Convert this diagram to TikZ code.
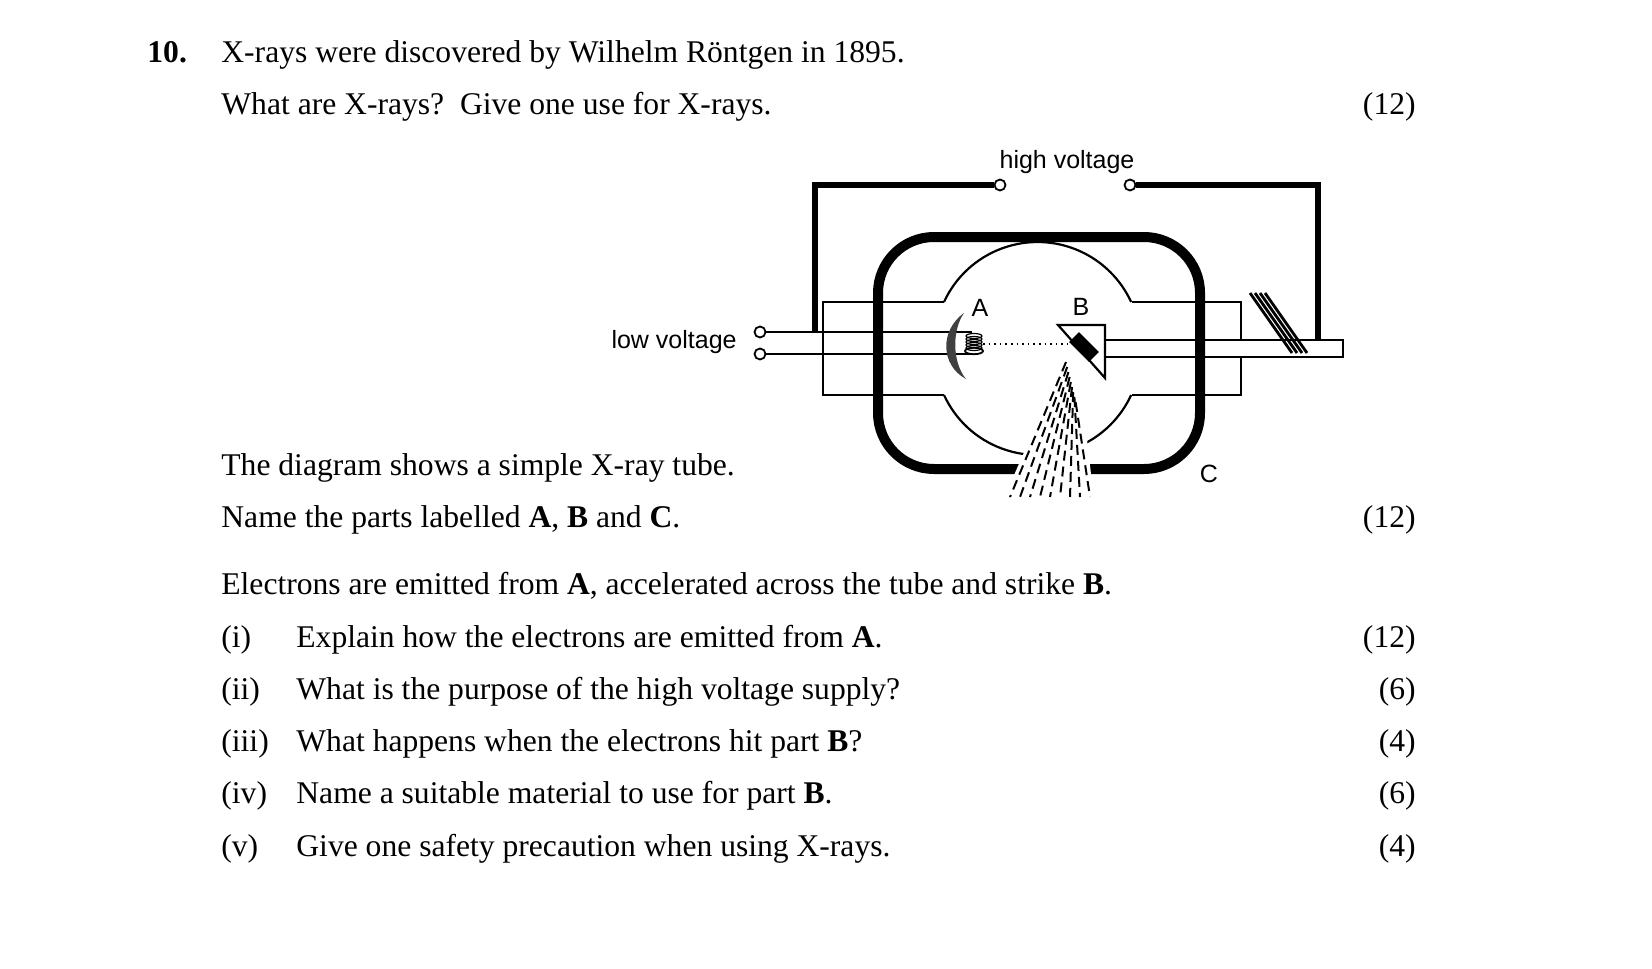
\documentclass[tikz,border=0pt]{standalone}
\usepackage{fontspec}
\setmainfont{Liberation Serif}
\newfontfamily\lsans{Liberation Sans}
\begin{document}
\begin{tikzpicture}[x=0.5pt,y=-0.5pt,
  txt/.style={anchor=base west,inner sep=0,font=\fontsize{15.8}{19}\selectfont},
  mk/.style={anchor=base east,inner sep=0,font=\fontsize{15.8}{19}\selectfont},
  lab/.style={inner sep=0,font=\lsans\fontsize{12.5}{15}\selectfont},
  thin/.style={line width=1.1pt},
  wire/.style={line width=2.6pt},
  term/.style={circle,draw,line width=0.9pt,fill=white,minimum size=5.5pt,inner sep=0}]
\useasboundingbox (0,0) rectangle (1652,968);
% text
\node[txt,font=\bfseries\fontsize{15.8}{19}\selectfont] (q) at (147,63) {10.};
\node[txt] (t1) at (221,63) {X-rays were discovered by Wilhelm Röntgen in 1895.};
\node[txt] (t2) at (221,115) {What are X-rays?\ \ Give one use for X-rays.};
\node[mk] (m1) at (1416,115) {(12)};
\node[txt] (t3) at (221,475) {The diagram shows a simple X-ray tube.};
\node[txt] (t4) at (221,527) {Name the parts labelled \textbf{A}, \textbf{B} and \textbf{C}.};
\node[mk] (m2) at (1416,527) {(12)};
\node[txt] (t5) at (221,594) {Electrons are emitted from \textbf{A}, accelerated across the tube and strike \textbf{B}.};
\foreach \r/\s/\m/\y [count=\k] in {(i)/Explain how the electrons are emitted from \textbf{A}./(12)/647,
 (ii)/What is the purpose of the high voltage supply?/(6)/699,
 (iii)/What happens when the electrons hit part \textbf{B}?/(4)/751,
 (iv)/Name a suitable material to use for part \textbf{B}./(6)/803,
 (v)/Give one safety precaution when using X-rays./(4)/856}{
  \node[txt] (r\k) at (221,\y) {\r};
  \node[txt] (s\k) at (296,\y) {\s};
  \node[mk] (mm\k) at (1416,\y) {\m};
}
% necks
\draw[thin] (944,302) -- (823,302) -- (823,395) -- (944,395);
\draw[thin] (1132,302) -- (1241,302) -- (1241,395) -- (1132,395);
% bulb arcs
\draw[thin] (944,302) arc[start angle=204.7,end angle=335.3,radius=103];
\draw[thin] (944,395) arc[start angle=155.3,end angle=24.7,radius=103];
% anode rod
\draw[thin,fill=white] (1105,340) rectangle (1343,357);
% cathode wires
\node[term] (lv1) at (760,332) {};
\node[term] (lv2) at (760,354) {};
\draw[thin] (lv1) -- (972,332);
\draw[thin] (lv2) -- (972,354);
% high voltage circuit
\node[term] (hv1) at (1000,185) {};
\node[term] (hv2) at (1130,185) {};
\draw[wire] (hv1) -- (815,185) -- (815,331);
\draw[wire] (hv2) -- (1318,185) -- (1318,340);
% glass envelope
\draw[line width=5pt,rounded corners=28pt] (878,237) rectangle (1200,469);
% hatching
\foreach \d in {0,5,10,15} \draw[line width=1.4pt] (1250+\d,293) -- (1292+\d,353);
% cathode cup
\fill[black!75] (964,313) .. controls (940,330) and (940,365) .. (966,379)
   .. controls (952,362) and (952,330) .. (964,313) -- cycle;
% coil
\foreach \yy in {336,339,342,345,348} \draw[line width=0.6pt] (974,\yy) ellipse[x radius=8,y radius=2.5];
\draw[line width=0.9pt] (974,351) ellipse[x radius=9,y radius=3.2];
% electron path
\draw[dotted,line width=0.8pt] (983,344) -- (1068,344);
% target
\draw[thin,fill=white] (1058,325) -- (1105,325) -- (1105,378) -- cycle;
\fill[rotate around={-45:(1084,347)}] (1070,340) rectangle (1098,354);
% beam
\fill[white] (1064,362) -- (1078,362) -- (1094,500) -- (1003,500) -- cycle;
\foreach \i in {0,...,8}
  \draw[line width=1pt,dash pattern=on 5pt off 3pt] (1066+\i*1.2,362+\i*5) -- (1010+\i*10,497);
% labels
\node[lab,anchor=east] (lv) at (737,342) {low voltage};
\node[lab] (hv) at (1067,162) {high voltage};
\node[lab] (A) at (980,308) {A};
\node[lab] (B) at (1081,307) {B};
\node[lab] (C) at (1209,474) {C};
\end{tikzpicture}
\end{document}
